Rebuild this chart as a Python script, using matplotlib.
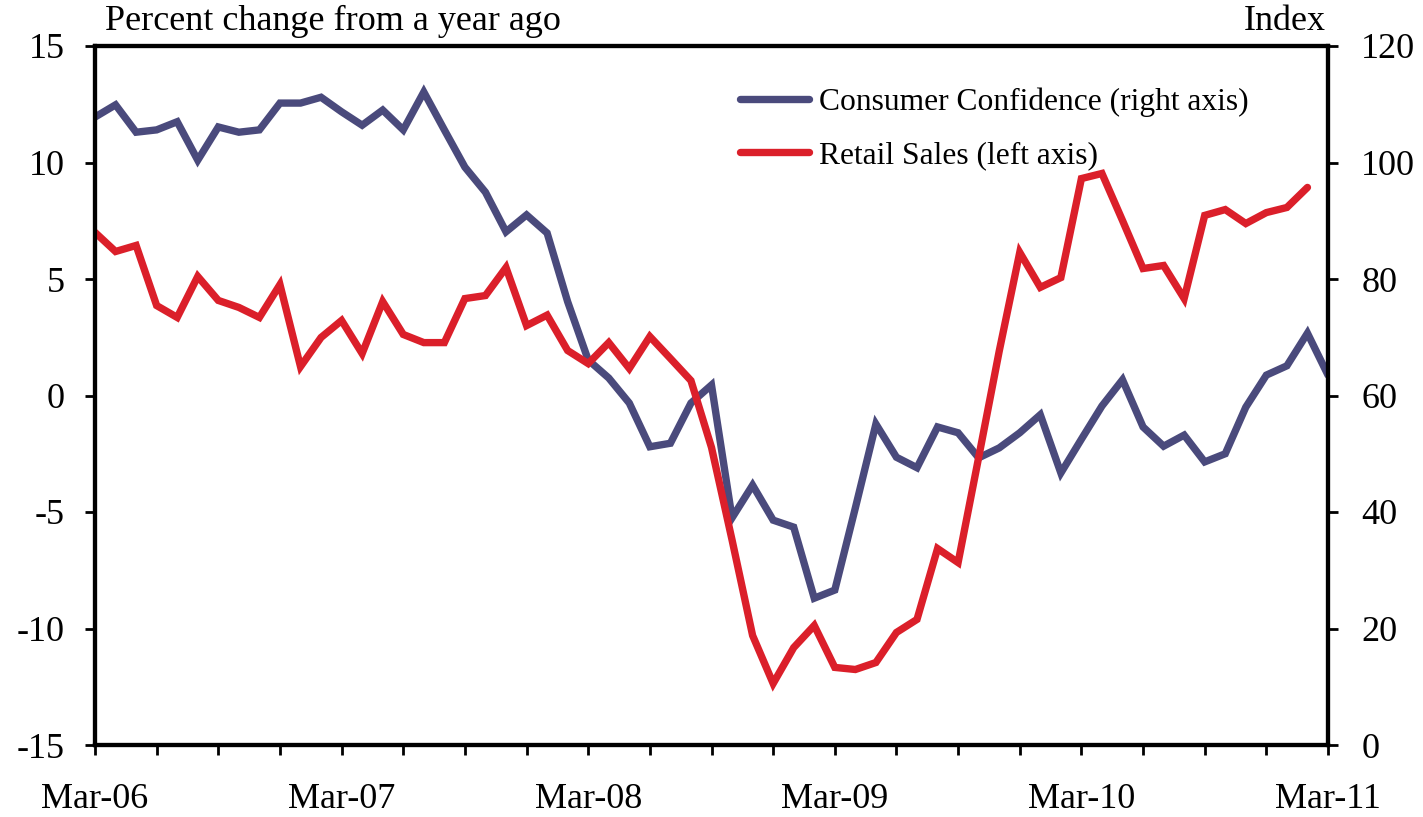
import matplotlib
matplotlib.use("Agg")
import matplotlib.pyplot as plt
import numpy as np

plt.rcParams['font.family'] = ['Liberation Serif', 'DejaVu Serif']
plt.rcParams['axes.unicode_minus'] = False

# monthly, Mar-06 .. Mar-11
tick_labels = ['Mar-06', 'Mar-07', 'Mar-08', 'Mar-09', 'Mar-10', 'Mar-11']

# Consumer Confidence, index (right axis), Mar-06 .. Mar-11
consumer_conf = [107.8, 109.9, 105.2, 105.6, 107.0, 100.4, 106.1, 105.2, 105.6, 110.2,
                 110.2, 111.2, 108.7, 106.4, 109.0, 105.6, 112.1, 105.6, 99.2, 94.9,
                 88.1, 91.0, 87.9, 76.1, 66.1, 63.0, 58.7, 51.2, 51.8, 58.7,
                 61.8, 39.0, 44.6, 38.6, 37.4, 25.2, 26.6, 40.7, 55.1, 49.4,
                 47.6, 54.6, 53.6, 49.3, 51.0, 53.6, 56.7, 46.7, 52.5, 58.2,
                 62.7, 54.6, 51.3, 53.2, 48.6, 50.0, 58.0, 63.5, 65.1, 70.7, 63.5]

# Retail sales, % change y/y (left axis), Mar-06 .. Feb-11
retail_sales = [7.0, 6.18, 6.44, 3.86, 3.35, 5.11, 4.08, 3.78, 3.35, 4.76,
                1.24, 2.49, 3.22, 1.80, 4.03, 2.62, 2.27, 2.27, 4.16, 4.29,
                5.49, 3.0, 3.45, 1.93, 1.37, 2.27, 1.16, 2.53, 1.59, 0.64,
                -2.23, -6.2, -10.3, -12.36, -10.82, -9.87, -11.67, -11.76, -11.46, -10.17,
                -9.61, -6.57, -7.17, -2.66, 1.9, 6.14, 4.64, 5.06, 9.31, 9.53,
                7.51, 5.45, 5.58, 4.16, 7.73, 7.98, 7.38, 7.85, 8.07, 8.93]

blue = '#4A4A7C'
red = '#DB1F2A'

fig = plt.figure(figsize=(14.23, 8.17), dpi=100)
ax = fig.add_axes([95 / 1423, 72 / 817, (1328 - 95) / 1423, (745 - 46) / 817])
ax2 = ax.twinx()

x_cc = np.arange(len(consumer_conf))
x_rs = np.arange(len(retail_sales))

l_cc, = ax2.plot(x_cc, consumer_conf, color=blue, lw=5.3, solid_joinstyle='miter',
                 solid_capstyle='round', label='Consumer Confidence (right axis)')
l_rs, = ax.plot(x_rs, retail_sales, color=red, lw=5.3, solid_joinstyle='miter',
                solid_capstyle='round', label='Retail Sales (left axis)')

# red line on top
ax.set_zorder(ax2.get_zorder() + 1)
ax.patch.set_visible(False)

ax.set_xlim(0, 60)
ax.set_ylim(-15, 15)
ax2.set_ylim(0, 120)
ax.set_yticks(np.arange(-15, 16, 5))
ax2.set_yticks(np.arange(0, 121, 20))
ax.set_xticks(np.arange(0, 61, 3), minor=True)
ax.set_xticks(np.arange(0, 61, 12))
ax.set_xticklabels(tick_labels)

for a in (ax, ax2):
    for s in a.spines.values():
        s.set_linewidth(3)
    a.tick_params(which='both', direction='out', length=7, width=2, labelsize=26)

ax.tick_params(axis='x', which='major', pad=20)
ax.tick_params(axis='y', pad=15)
ax2.tick_params(axis='y', pad=17)

ax.text(0.008, 1.012, 'Percent change from a year ago', transform=ax.transAxes,
        fontsize=26, ha='left', va='bottom')
ax.text(0.998, 1.012, 'Index', transform=ax.transAxes,
        fontsize=26, ha='right', va='bottom')

fig.legend(handles=[l_cc, l_rs], loc='upper left', bbox_to_anchor=(724 / 1423, 1 - 72 / 817),
           frameon=False, fontsize=22.7, handlelength=2.2, handletextpad=0.3,
           labelspacing=0.75, borderpad=0)

fig.savefig('out.png', dpi=100)
